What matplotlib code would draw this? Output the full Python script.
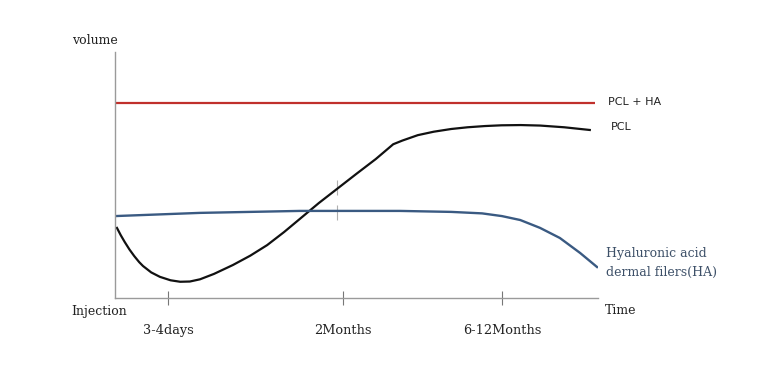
import matplotlib
matplotlib.use("Agg")
import matplotlib.pyplot as plt

# Data (arbitrary units: time 0-100 from injection, volume 0-100)
tick_pos = [11.0, 47.2, 80.1]
tick_labels = ["3-4days", "2Months", "6-12Months"]

pcl_ha_x = [0, 99.4]
pcl_ha_y = [79.3, 79.3]

pcl_x = [0.4, 1.2, 2.0, 3.0, 4.0, 5.0, 5.8, 7.5, 9.3, 11.5, 13.5, 15.5, 17.6, 20.5, 24.4,
         28.0, 31.5, 35.0, 38.3, 42.2, 46.2, 50.0, 54.0, 57.6, 59.5, 62.7, 66.0, 69.6,
         73.0, 76.6, 80.0, 84.0, 88.0, 93.0, 98.3]
pcl_y = [28.5, 25.5, 22.8, 19.7, 17.0, 14.6, 13.0, 10.4, 8.6, 7.2, 6.6, 6.7, 7.6, 9.8, 13.4,
         17.2, 21.5, 26.8, 32.2, 38.6, 44.7, 50.5, 56.5, 62.5, 64.0, 66.2, 67.6, 68.7,
         69.4, 69.9, 70.2, 70.3, 70.1, 69.4, 68.3]

ha_x = [0, 17.6, 38.3, 46.6, 59.0, 69.6, 76.0, 80.1, 83.9, 88.0, 92.1, 96.3, 99.8]
ha_y = [33.3, 34.6, 35.4, 35.4, 35.4, 35.0, 34.4, 33.3, 31.7, 28.5, 24.4, 18.3, 12.6]

# faint construction marks at the 2-month point
mark_x = 46.0
mark_segments = [(41.9, 48.0), (31.7, 37.8)]

fig = plt.figure(figsize=(7.68, 3.82), dpi=100)
ax = fig.add_axes([115/768, 84/382, 483/768, 246/382])
ax.set_xlim(0, 100)
ax.set_ylim(0, 100)

for lo, hi in mark_segments:
    ax.vlines(mark_x, lo, hi, color="#b0b0b0", lw=0.8, zorder=1)

ax.plot(pcl_ha_x, pcl_ha_y, color="#c0302c", lw=1.6, solid_capstyle="butt")
ax.plot(pcl_x, pcl_y, color="#111111", lw=1.6, solid_joinstyle="round")
ax.plot(ha_x, ha_y, color="#3a5a82", lw=1.7, solid_joinstyle="round")

for s in ["top", "right"]:
    ax.spines[s].set_visible(False)
for s in ["left", "bottom"]:
    ax.spines[s].set_color("#9a9a9a")
    ax.spines[s].set_linewidth(1.0)

ax.set_yticks([])
ax.set_xticks(tick_pos)
ax.set_xticklabels(tick_labels, family="DejaVu Serif", fontsize=9.3, color="#222222")
ax.tick_params(axis="x", direction="inout", length=10, width=0.8, color="#777777", pad=14)

serif = dict(family="DejaVu Serif", fontsize=9, color="#222222")
fig.text(72/768, 1 - 40/382, "volume", va="center", ha="left", **serif)
fig.text(71/768, 1 - 312/382, "Injection", va="center", ha="left", **serif)
fig.text(605/768, 1 - 311/382, "Time", va="center", ha="left", **serif)

sans = dict(family="DejaVu Sans", fontsize=8, color="#222222")
fig.text(608/768, 1 - 102/382, "PCL + HA", va="center", ha="left", **sans)
fig.text(611/768, 1 - 127/382, "PCL", va="center", ha="left", **sans)

hs = dict(family="DejaVu Serif", fontsize=9, color="#3d5068")
fig.text(606/768, 1 - 254/382, "Hyaluronic acid", va="center", ha="left", **hs)
fig.text(606/768, 1 - 272/382, "dermal filers(HA)", va="center", ha="left", **hs)

fig.savefig("out.png", dpi=100)
